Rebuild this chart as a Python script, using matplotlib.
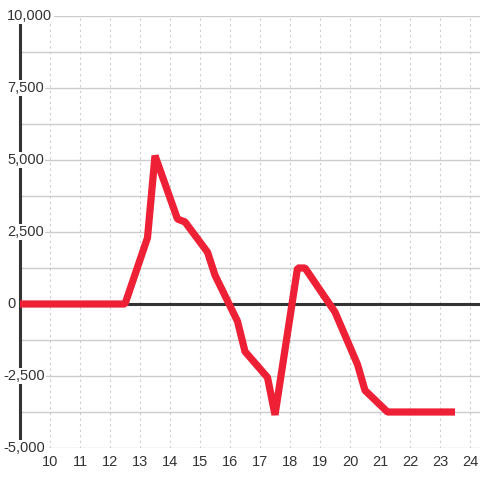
import numpy as np
import matplotlib
matplotlib.use("Agg")
import matplotlib.pyplot as plt

plt.rcParams['font.family'] = ['Liberation Sans', 'DejaVu Sans']

# data
x_vals = [9, 12.5, 13.25, 13.5, 14.25, 14.5, 15.25, 15.5, 16.25, 16.5,
          17.25, 17.5, 18.25, 18.5, 19.5, 20.25, 20.5, 21.25, 23.5]
y_vals = [0, 0, 2300, 5150, 2950, 2850, 1800, 1000, -600, -1650,
          -2550, -3850, 1250, 1250, -280, -2100, -3000, -3750, -3750]
x_ticks = list(range(10, 25))
y_grid = np.arange(-5000, 10001, 1250)
y_labels = [-5000, -2500, 0, 2500, 5000, 7500, 10000]

fig = plt.figure(figsize=(4.8, 4.8), dpi=100)
ax = fig.add_axes([20 / 480, 32 / 480, 460 / 480, 432 / 480])
ax.set_xlim(9, 24.333)
ax.set_ylim(-5000, 10000)

for s in ['top', 'right', 'bottom']:
    ax.spines[s].set_visible(False)
ax.spines['left'].set_color('#333333')
ax.spines['left'].set_linewidth(2.2)

ax.set_xticks(x_ticks)
ax.set_yticks(y_grid)
ax.set_yticklabels([])
ax.tick_params(axis='y', length=0)
ax.tick_params(axis='x', length=0, pad=5, labelsize=10.5, labelcolor='#333333')
ax.grid(axis='y', color='#cccccc', linewidth=1, linestyle='-')
ax.grid(axis='x', color='#cccccc', linewidth=0.8, linestyle=(0, (2, 3)))
ax.set_axisbelow(True)

# zero line
ax.axhline(0, color='#333333', linewidth=2.2, zorder=3)

ax.plot(x_vals, y_vals, color='#ee2036', linewidth=5.2, zorder=4,
        solid_joinstyle='bevel', solid_capstyle='butt')

# y labels on top of the axis line with white background
tr = ax.get_yaxis_transform()
for v in y_labels:
    xpos = -0.037 if v < 0 else -0.0283
    ax.text(xpos, v, '{:,}'.format(v), transform=tr, ha='left', va='center',
            fontsize=10.5, color='#333333', zorder=6, clip_on=False,
            bbox=dict(facecolor='white', edgecolor='none', pad=1))

fig.savefig('out.png', dpi=100, facecolor='white')
